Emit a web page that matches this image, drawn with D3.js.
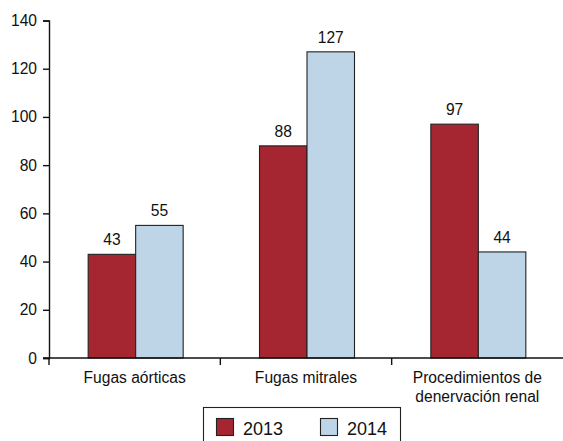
<!DOCTYPE html>
<html>
<head>
<meta charset="utf-8">
<script src="https://cdn.jsdelivr.net/npm/d3@7"></script>
<style>
  html, body { margin: 0; padding: 0; background: #fff; }
  svg text { font-family: "Liberation Sans", Arial, sans-serif; fill: #111; }
</style>
</head>
<body>
<svg id="chart" width="563" height="441"></svg>
<script>
// Procedure counts per category and year
const categories = [["Fugas aórticas"], ["Fugas mitrales"], ["Procedimientos de", "denervación renal"]];
const seriesNames = ["2013", "2014"];
const values2013 = [43, 88, 97];
const values2014 = [55, 127, 44];
const yTicks = [0, 20, 40, 60, 80, 100, 120, 140];
const colors = ["#a52631", "#bed5e8"];

const svg = d3.select("#chart");
const margin = { left: 49, top: 20.5 };
const W = 563;
const plotBottom = 358;
const fs = 15.6;

const catKeys = categories.map(c => c.join(" "));
const x = d3.scaleBand().domain(catKeys).range([margin.left, W]);
const y = d3.scaleLinear().domain([0, 140]).range([plotBottom, margin.top]);
const inner = d3.scaleBand().domain(seriesNames).range([0, 95]);

// Bars
const rows = catKeys.map((k, i) => ({ key: k, vals: [values2013[i], values2014[i]] }));
const groups = svg.append("g").selectAll("g").data(rows).join("g")
  .attr("transform", d => `translate(${x(d.key) + x.bandwidth() / 2 - 47},0)`);

groups.selectAll("rect").data(d => d.vals.map((v, j) => ({ v, s: seriesNames[j], j })))
  .join("rect")
  .attr("x", d => inner(d.s) + 0.5)
  .attr("width", inner.bandwidth())
  .attr("y", d => y(d.v))
  .attr("height", d => plotBottom - y(d.v))
  .attr("fill", d => colors[d.j])
  .attr("stroke", "#222")
  .attr("stroke-width", 1.1);

groups.selectAll("text.val").data(d => d.vals.map((v, j) => ({ v, s: seriesNames[j] })))
  .join("text")
  .attr("class", "val")
  .attr("x", d => inner(d.s) + 0.5 + inner.bandwidth() / 2)
  .attr("y", d => y(d.v) - 9)
  .attr("text-anchor", "middle")
  .attr("font-size", fs)
  .text(d => d.v);

// Y axis
const yAxis = svg.append("g").attr("transform", `translate(${margin.left},0)`)
  .call(d3.axisLeft(y).tickValues(yTicks).tickSize(6).tickPadding(6));
yAxis.select(".domain").attr("stroke", "#111").attr("stroke-width", 1.4);
yAxis.selectAll(".tick line").attr("stroke", "#111").attr("stroke-width", 1.4);
yAxis.selectAll(".tick text").attr("font-size", fs).attr("font-family", "Liberation Sans, Arial, sans-serif").attr("fill", "#111");

// X axis: ticks at category boundaries
const bounds = [margin.left].concat(catKeys.map(k => x(k) + x.bandwidth()));
const xa = svg.append("g");
xa.append("line").attr("x1", margin.left - 6).attr("x2", W).attr("y1", plotBottom).attr("y2", plotBottom)
  .attr("stroke", "#111").attr("stroke-width", 1.4);
xa.selectAll("line.t").data(bounds.slice(0, 3)).join("line").attr("class", "t")
  .attr("x1", d => d).attr("x2", d => d).attr("y1", plotBottom).attr("y2", plotBottom + 7)
  .attr("stroke", "#111").attr("stroke-width", 1.4);

const catLabels = svg.append("g").selectAll("text").data(categories).join("text")
  .attr("x", (d, i) => x(catKeys[i]) + x.bandwidth() / 2)
  .attr("y", 383)
  .attr("text-anchor", "middle")
  .attr("font-size", fs);
catLabels.selectAll("tspan").data(d => d).join("tspan")
  .attr("x", function () { return d3.select(this.parentNode).attr("x"); })
  .attr("dy", (d, i) => i === 0 ? 0 : 19)
  .text(d => d);

// Legend
const leg = svg.append("g");
leg.append("rect").attr("x", 203.5).attr("y", 407.5).attr("width", 197).attr("height", 40)
  .attr("fill", "#fff").attr("stroke", "#222").attr("stroke-width", 1.1);
const legX = [216, 320];
seriesNames.forEach((s, i) => {
  leg.append("rect").attr("x", legX[i] + 0.5).attr("y", 418.5).attr("width", 17).attr("height", 17)
    .attr("fill", colors[i]).attr("stroke", "#222").attr("stroke-width", 1.1);
  leg.append("text").attr("x", legX[i] + 27).attr("y", 435).attr("font-size", 18).text(s);
});
</script>
</body>
</html>
